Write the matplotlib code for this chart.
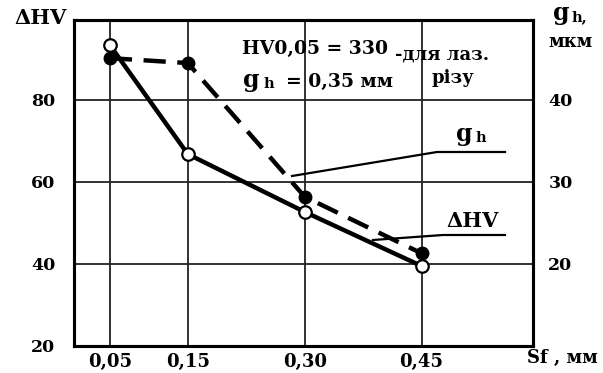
import matplotlib
matplotlib.use("Agg")
from matplotlib import pyplot as plt
from matplotlib.lines import Line2D

# дані
sf = [0.05, 0.15, 0.30, 0.45]
sf_labels = ["0,05", "0,15", "0,30", "0,45"]
dhv = [93.4, 66.8, 52.7, 39.5]       # ΔHV, суцільна лінія
gh = [45.1, 44.5, 28.2, 21.3]        # gh, мкм, штрихова лінія
hv_ticks = [20, 40, 60, 80]
gh_ticks = [20, 30, 40]

W, H = 603, 373


def px(x, y):
    # піксельні координати -> частки фігури
    return x / W, 1 - y / H


def main():
    plt.rcParams["font.family"] = ["DejaVu Serif"]
    plt.rcParams["font.weight"] = "bold"
    fig = plt.figure(figsize=(W / 100, H / 100), dpi=100)
    ax = fig.add_axes([74 / W, 1 - 346 / H, 459 / W, 326 / H])
    ax2 = ax.twinx()

    ax.set_xlim(0.004, 0.593)
    ax.set_ylim(20, 99.5)
    ax2.set_ylim(10, 49.75)

    ax.set_xticks(sf)
    ax.set_xticklabels(sf_labels)
    ax.set_yticks(hv_ticks)
    ax2.set_yticks(gh_ticks)
    ax.tick_params(axis="x", length=0, pad=5, labelsize=13)
    ax.tick_params(axis="y", length=0, pad=13.5, labelsize=12.5)
    ax2.tick_params(axis="y", length=0, pad=11, labelsize=12.5)
    for t in ax.get_xticklabels() + ax.get_yticklabels() + ax2.get_yticklabels():
        t.set_fontweight("bold")

    ax.grid(True, color="#222222", linewidth=1.3)
    ax.set_axisbelow(True)
    for a in (ax, ax2):
        for s in a.spines.values():
            s.set_linewidth(2.2)
            s.set_color("black")

    ax.plot(sf, dhv, color="black", linewidth=3.2, marker="o", markersize=9,
            markerfacecolor="white", markeredgecolor="black", markeredgewidth=1.6,
            zorder=3)
    ax2.plot(sf, gh, color="black", linewidth=3.2, linestyle=(0, (5, 2.6)),
             marker="o", markersize=9, markerfacecolor="black",
             markeredgecolor="black", zorder=4)

    # написи всередині
    fig.text(*px(242, 49), "HV0,05 = 330", fontsize=13.5, fontweight="bold", va="center")
    fig.text(*px(395, 54), "-для лаз.", fontsize=13, fontweight="bold", va="center")
    fig.text(*px(432, 78), "різу", fontsize=13, fontweight="bold", va="center")
    fig.text(*px(243, 80), "g", fontsize=17, fontweight="bold", va="center")
    fig.text(*px(263, 84), "h", fontsize=10.5, fontweight="bold", va="center")
    fig.text(*px(286, 82), "= 0,35 мм", fontsize=13.5, fontweight="bold", va="center")

    # підписи кривих з виносками
    fig.text(*px(456, 134), "g", fontsize=17, fontweight="bold", va="center")
    fig.text(*px(476, 138), "h", fontsize=10.5, fontweight="bold", va="center")
    fig.add_artist(Line2D([292 / W, 437 / W, 505 / W],
                          [1 - 176 / H, 1 - 152 / H, 1 - 152 / H],
                          color="black", linewidth=1.6))
    fig.text(*px(446, 221), "ΔHV", fontsize=15, fontweight="bold", va="center")
    fig.add_artist(Line2D([373 / W, 443 / W, 505 / W],
                          [1 - 240 / H, 1 - 235 / H, 1 - 235 / H],
                          color="black", linewidth=1.6))

    # підписи осей
    fig.text(*px(14, 18), "ΔHV", fontsize=15, fontweight="bold", va="center")
    fig.text(*px(553, 13), "g", fontsize=17, fontweight="bold", va="center")
    fig.text(*px(572, 17), "h,", fontsize=10.5, fontweight="bold", va="center")
    fig.text(*px(548, 42), "мкм", fontsize=13, fontweight="bold", va="center")
    fig.text(*px(527, 358), "Sf , мм", fontsize=13, fontweight="bold", va="center")

    fig.savefig("out.png", dpi=100)


if __name__ == "__main__":
    main()
